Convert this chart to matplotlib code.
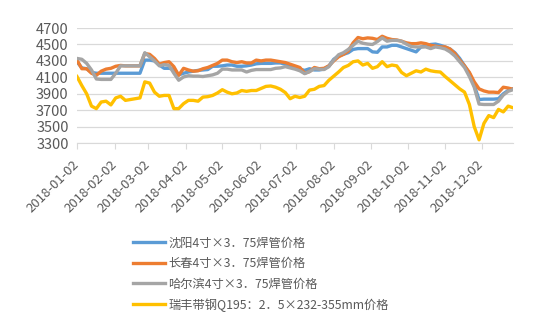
import numpy as np
import pandas as pd
import matplotlib
matplotlib.use('Agg')
import matplotlib.pyplot as plt
import matplotlib.dates as mdates

plt.rcParams['font.family'] = ['Noto Sans CJK SC', 'DejaVu Sans']

# sample dates, every 4 days from 2018-01-02
dates = pd.date_range('2018-01-02', periods=91, freq='4D')

shenyang = [4290, 4215, 4205, 4160, 4150, 4150, 4150, 4150, 4150, 4150,
            4150, 4150, 4150, 4150, 4310, 4310, 4300, 4250, 4210, 4210,
            4200, 4130, 4150, 4165, 4175, 4185, 4190, 4195, 4235, 4235,
            4240, 4250, 4250, 4235, 4235, 4240, 4250, 4265, 4270, 4270,
            4270, 4275, 4275, 4260, 4245, 4230, 4200, 4185, 4205, 4190,
            4190, 4200, 4240, 4320, 4360, 4380, 4400, 4440, 4450, 4450,
            4450, 4410, 4405, 4470, 4470, 4490, 4490, 4470, 4450, 4430,
            4410, 4470, 4480, 4500, 4505, 4490, 4470, 4445, 4400, 4330,
            4240, 4150, 4000, 3830, 3835, 3835, 3835, 3840, 3900, 3940,
            3960]

changchun = [4310, 4205, 4205, 4150, 4125, 4175, 4200, 4210, 4235, 4245,
             4240, 4240, 4240, 4240, 4390, 4380, 4330, 4260, 4280, 4290,
             4230, 4125, 4210, 4190, 4175, 4180, 4205, 4220, 4245, 4270,
             4310, 4310, 4290, 4280, 4290, 4275, 4275, 4310, 4300, 4310,
             4310, 4300, 4290, 4280, 4260, 4240, 4220, 4150, 4170, 4220,
             4205, 4210, 4240, 4300, 4350, 4380, 4420, 4520, 4585, 4570,
             4580, 4575, 4560, 4600, 4575, 4560, 4555, 4540, 4520, 4510,
             4510, 4520, 4510, 4490, 4480, 4470, 4470, 4445, 4390, 4310,
             4240, 4160, 4045, 3960, 3935, 3920, 3920, 3915, 3980, 3970,
             3955]

harbin = [4330, 4320, 4270, 4190, 4080, 4075, 4075, 4075, 4150, 4240,
          4240, 4240, 4240, 4240, 4400, 4350, 4300, 4240, 4255, 4245,
          4150, 4065, 4105, 4120, 4115, 4115, 4110, 4120, 4130, 4150,
          4200, 4200, 4190, 4190, 4190, 4165, 4185, 4195, 4195, 4195,
          4195, 4210, 4215, 4230, 4215, 4200, 4180, 4145, 4170, 4205,
          4200, 4195, 4230, 4310, 4375, 4400, 4440, 4490, 4540, 4515,
          4505, 4500, 4535, 4580, 4540, 4550, 4550, 4540, 4505, 4475,
          4470, 4470, 4470, 4450, 4470, 4460, 4445, 4410, 4360, 4290,
          4220, 4110, 3980, 3775, 3770, 3770, 3770, 3810, 3885, 3930,
          3950]

ruifeng = [4110, 4000, 3900, 3750, 3720, 3800, 3810, 3765, 3850, 3870,
           3820, 3830, 3840, 3850, 4045, 4030, 3920, 3870, 3880, 3880,
           3720, 3720, 3780, 3820, 3820, 3810, 3860, 3865, 3880, 3910,
           3950, 3920, 3900, 3910, 3940, 3930, 3940, 3940, 3965, 3990,
           3995, 3980, 3955, 3915, 3840, 3870, 3855, 3870, 3945, 3955,
           3990, 4000, 4065, 4115, 4165, 4220, 4245, 4290, 4300, 4250,
           4270, 4210, 4230, 4290, 4230, 4250, 4240, 4160, 4120, 4150,
           4180, 4165, 4200, 4180, 4170, 4165, 4110, 4060, 4010, 3960,
           3920, 3770, 3500, 3340, 3540, 3635, 3610, 3710, 3680, 3750,
           3730]

labels = ['沈阳4寸×3．75焊管价格', '长春4寸×3．75焊管价格',
          '哈尔滨4寸×3．75焊管价格', '瑞丰带钢Q195：2．5×232-355mm价格']
colors = ['#5B9BD5', '#ED7D31', '#A5A5A5', '#FFC000']
tick_dates = pd.to_datetime(['2018-%02d-02' % m for m in range(1, 13)])

fig = plt.figure(figsize=(5.44, 3.26), dpi=100)
ax = fig.add_axes([0.1415, 0.561, 0.8015, 0.353])

for vals, lab, col in zip([shenyang, changchun, harbin, ruifeng], labels, colors):
    ax.plot(dates, vals, color=col, lw=2.4, label=lab, solid_joinstyle='round')

ax.set_ylim(3300, 4700)
ax.set_yticks(np.arange(3300, 4701, 200))
ax.set_xlim(dates[0], dates[-1])
ax.set_xticks(tick_dates)
ax.xaxis.set_major_formatter(mdates.DateFormatter('%Y-%m-%d'))
plt.setp(ax.get_xticklabels(), rotation=45, ha='right', va='center', rotation_mode='anchor')

ax.grid(axis='y', color='#d9d9d9', lw=0.9)
ax.set_axisbelow(True)
for s in ['left', 'right', 'top']:
    ax.spines[s].set_visible(False)
ax.spines['bottom'].set_color('#d9d9d9')
ax.tick_params(axis='y', length=0, labelsize=10.5, labelcolor='#595959', pad=6)
ax.tick_params(axis='x', length=4, color='#d9d9d9', labelsize=9.5, labelcolor='#595959', pad=10)

ax.legend(loc='upper left', bbox_to_anchor=(0.235, 0.29), bbox_transform=fig.transFigure,
          frameon=False, fontsize=8.8, handlelength=2.6, handletextpad=0.3,
          labelspacing=0.62, labelcolor='#595959', borderaxespad=0)

fig.savefig('out.png', dpi=100)
